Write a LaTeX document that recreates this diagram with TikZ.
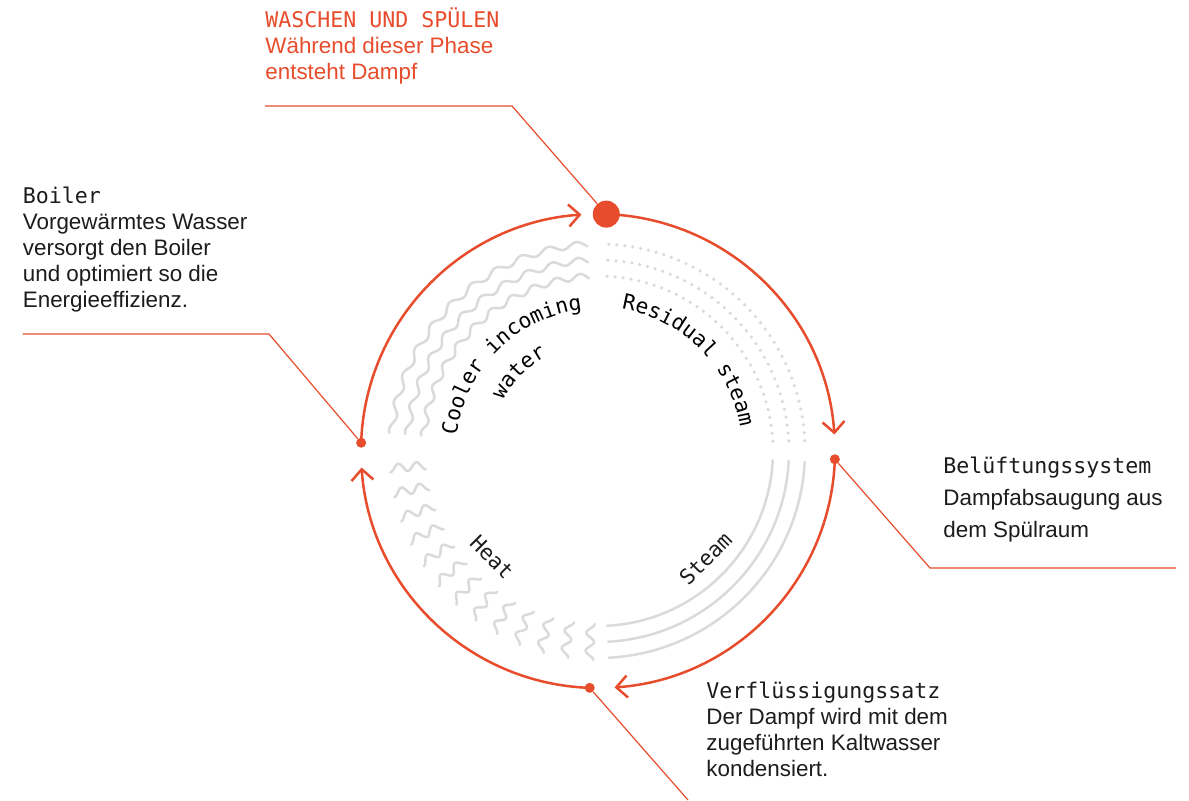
\documentclass[tikz,border=0pt]{standalone}
\usepackage{fontspec}
\setmainfont{Liberation Sans}
\newfontfamily\codefont{DejaVu Sans Mono}
\usetikzlibrary{arrows.meta,decorations.text,calc}

\definecolor{accent}{RGB}{231,76,44}
\definecolor{pipegray}{RGB}{218,218,218}
\definecolor{ink}{RGB}{28,28,28}

\tikzset{
    cycle/.style={draw=accent, line width=1.25pt, -{Straight Barb[length=5.5pt,width=11pt]}},
    leader/.style={draw=accent, line width=0.6pt},
    station/.style={circle, fill=accent, inner sep=0pt, minimum size=5pt},
    bigstation/.style={station, minimum size=13.5pt},
    pipeline/.style={draw=pipegray, line width=1.25pt, line cap=round},
    steamdots/.style={draw=pipegray, line width=1.8pt, line cap=round, dash pattern=on 0pt off 4pt},
    infotext/.style={align=left, anchor=base west, inner sep=0pt, text=ink, font=\fontsize{11.2}{13}\selectfont},
    flowlabel/.style={inner sep=0pt, text=ink, font=\codefont\fontsize{10.6}{12}\selectfont},
}
\newcommand{\calltitle}[1]{{\codefont\fontsize{10.8}{13}\selectfont #1}}

\begin{document}
\begin{tikzpicture}[x=0.5pt, y=0.5pt]
        \def \radius {237}
        \def \innerpipe {175}
        \def \middlepipe {191}
        \def \outerpipe {207}

        \useasboundingbox (0,0) rectangle (1189,800);
        \coordinate (c) at (598,349);

        % the ring, four arrows clockwise
        \foreach \a in {178, 88, -2, -92}{
            \draw[cycle] ($(c)+(\a:\radius)$) arc[start angle=\a, end angle=\a-84, radius=\radius];
        };

        % cooler incoming water
        \foreach \r in {\innerpipe, \middlepipe, \outerpipe}{
            \draw[pipeline, shift={(c)}] plot[domain=93:175, samples=240, smooth] (\x:{\r+3*sin(46*\x)});
        };

        % residual steam
        \foreach \r in {\innerpipe, \middlepipe, \outerpipe}{
            \draw[steamdots] ($(c)+(87:\r)$) arc[start angle=87, end angle=2, radius=\r];
        };

        % steam
        \foreach \r in {\innerpipe, \middlepipe, \outerpipe}{
            \draw[pipeline] ($(c)+(-3:\r)$) arc[start angle=-3, end angle=-87, radius=\r];
        };

        % heat
        \foreach \s in {0,...,12}{
            \pgfmathsetmacro{\tilt}{184.8+6.9*\s}
            \draw[pipeline, shift={(c)}, rotate=\tilt] plot[domain=0:36, samples=60, smooth] ({173+\x},{4*cos(20*\x)});
        };

        \path[decorate, decoration={text along path, text align=center, text={|\codefont\fontsize{10.6}{12}\selectfont|Cooler incoming}}]
            ($(c)+(180:142)$) arc[start angle=180, end angle=90, radius=142];
        \path[decorate, decoration={text along path, text align=center, text={|\codefont\fontsize{10.6}{12}\selectfont|water}}]
            ($(c)+(180:108)$) arc[start angle=180, end angle=90, radius=108];
        \path[decorate, decoration={text along path, text align=center, text={|\codefont\fontsize{10.6}{12}\selectfont|Residual steam}}]
            ($(c)+(90:144)$) arc[start angle=90, end angle=0, radius=144];
        \node[flowlabel, rotate=-45] (heat) at ($(c)+(225:150)$) {Heat};
        \node[flowlabel, rotate=45] (steam) at ($(c)+(-45:152)$) {Steam};

        % stations
        \node[bigstation] (wash) at ($(c)+(88:\radius)$) {};
        \node[station] (vent) at ($(c)+(-2:\radius)$) {};
        \node[station] (cond) at ($(c)+(-92:\radius)$) {};
        \node[station] (boil) at ($(c)+(178:\radius)$) {};

        % callouts, anchored on their last line
        \node[infotext, text=accent] (washtext) at (265,720) {\calltitle{WASCHEN UND SPÜLEN}\\Während dieser Phase\\entsteht Dampf};
        \node[infotext] (boiltext) at (22.5,492.3) {\calltitle{Boiler}\\Vorgewärmtes Wasser\\versorgt den Boiler\\und optimiert so die\\Energieeffizienz.};
        \node[infotext, font=\fontsize{11.2}{16}\selectfont] (venttext) at (943,262.3) {\calltitle{Belüftungssystem}\\Dampfabsaugung aus\\dem Spülraum};
        \node[infotext] (condtext) at (706,23.3) {\calltitle{Verflüssigungssatz}\\Der Dampf wird mit dem\\zugeführten Kaltwasser\\kondensiert.};

        \coordinate (washend) at (265,694);
        \coordinate (washbend) at (512,694);
        \coordinate (boilend) at (22.5,466);
        \coordinate (boilbend) at (269,466);
        \coordinate (ventbend) at (930,232);
        \coordinate (ventend) at (1176,232);
        \coordinate (condend) at (688,0);

        \draw[leader] (washend) -- (washbend) -- (wash);
        \draw[leader] (boilend) -- (boilbend) -- (boil);
        \draw[leader] (vent) -- (ventbend) -- (ventend);
        \draw[leader] (cond) -- (condend);

    \end{tikzpicture}
\end{document}
